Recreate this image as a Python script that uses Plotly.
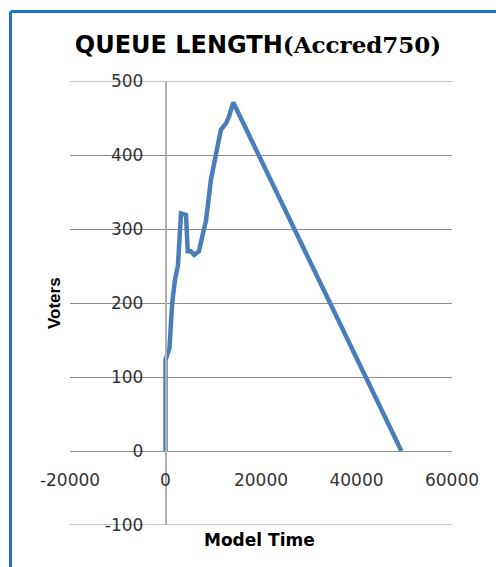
import plotly.graph_objects as go

# Queue length over model time
model_time = [0, 0, 830, 1400, 2000, 2600, 3250, 4300, 4650, 5300, 6000, 7000,
              7700, 8500, 9500, 10300, 10900, 11600, 12700, 13300, 14200, 49400]
voters = [0, 123, 139, 200, 232, 250, 321, 319, 270, 270, 265, 270,
          290, 312, 366, 395, 410, 434, 443, 452, 471, 0]

x_ticks = [-20000, 0, 20000, 40000, 60000]
y_ticks = [-100, 0, 100, 200, 300, 400, 500]

W, H = 496, 567
L, R, T, B = 70, 44, 81, 42
pw, ph = W - L - R, H - T - B
GRID = "#8c8c8c"

def px_x(p):
    return (p - L) / pw

def px_y(p):
    return (H - B - p) / ph

fig = go.Figure()
fig.add_trace(go.Scatter(
    x=model_time, y=voters, mode="lines",
    line=dict(color="#4a7ebb", width=4.5),
    hoverinfo="skip", showlegend=False,
))

tick_font = dict(family="DejaVu Sans", size=17, color="#333333")

# edge gridlines (top and bottom of the value range) drawn explicitly
edge_grid = [
    dict(type="line", xref="paper", yref="y", x0=0, x1=1, y0=v, y1=v,
         line=dict(color=GRID, width=1), layer="below")
    for v in (y_ticks[0], y_ticks[-1])
]

fig.update_layout(
    width=W, height=H,
    margin=dict(l=L, r=R, t=T, b=B),
    paper_bgcolor="white", plot_bgcolor="white",
    title=dict(
        text=("<span style='font-family:DejaVu Sans;font-weight:bold'>QUEUE LENGTH</span>"
              "<span style='font-family:DejaVu Serif;font-weight:bold;font-size:23px'>(Accred750)</span>"),
        font=dict(family="DejaVu Sans", size=24, color="black"),
        x=px_x(258), xref="paper", xanchor="center",
        y=1 - 45 / H, yref="container", yanchor="middle",
    ),
    xaxis=dict(
        range=[-20000, 60000], tickvals=x_ticks, ticktext=[str(v) for v in x_ticks],
        showgrid=False, zeroline=False,
        showline=True, linecolor=GRID, linewidth=1,
        anchor="free", position=1 / 6,
        ticks="", ticklabelstandoff=14, tickfont=tick_font,
    ),
    yaxis=dict(
        range=[-100, 500], tickvals=y_ticks, ticktext=[str(v) for v in y_ticks],
        showgrid=True, gridcolor=GRID, gridwidth=1, zeroline=False,
        showline=True, linecolor="#b0b0b0", linewidth=1.5,
        anchor="free", position=0.25,
        ticks="", ticklabelstandoff=18, tickfont=tick_font,
    ),
    annotations=[
        dict(text="<b>Model Time</b>", x=px_x(259), y=px_y(540),
             xref="paper", yref="paper", xanchor="center", yanchor="middle",
             showarrow=False, font=dict(family="DejaVu Sans", size=17, color="black")),
        dict(text="<b>Voters</b>", x=px_x(54), y=px_y(303), textangle=-90,
             xref="paper", yref="paper", xanchor="center", yanchor="middle",
             showarrow=False, font=dict(family="Liberation Sans", size=17, color="black")),
    ],
    shapes=edge_grid + [
        dict(type="line", xref="paper", yref="paper",
             x0=px_x(10.5), x1=px_x(W + 5), y0=px_y(11.5), y1=px_y(11.5),
             line=dict(color="#1f73c6", width=3)),
        dict(type="line", xref="paper", yref="paper",
             x0=px_x(10.5), x1=px_x(10.5), y0=px_y(11.5), y1=px_y(H + 5),
             line=dict(color="#1f73c6", width=3)),
    ],
)

fig.write_html("out.html")
